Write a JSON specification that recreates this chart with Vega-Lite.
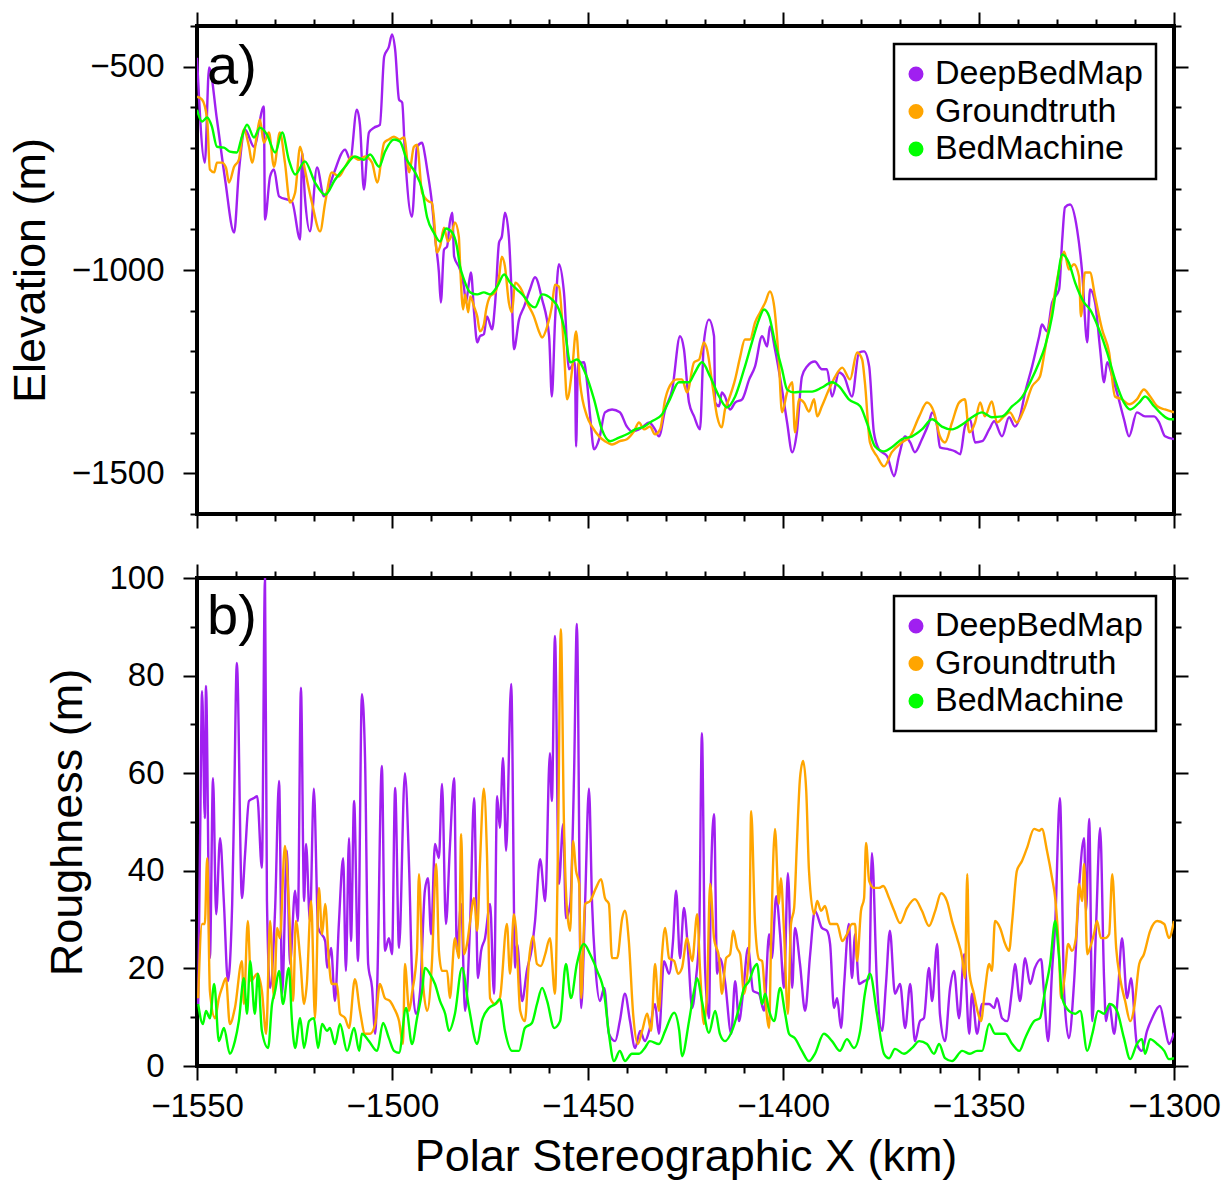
{
"$schema": "https://vega.github.io/schema/vega-lite/v6.json",
"padding": {"left": 6, "top": 8, "right": 5, "bottom": 5},
"spacing": 64,
"bounds": "flush",
"datasets": {
"t_dbm": [{"x":-1550,"y":-478},{"x":-1548.0,"y":-736},{"x":-1546.9,"y":-502},{"x":-1544.9,"y":-630},{"x":-1542.8,"y":-778},{"x":-1540.5,"y":-908},{"x":-1539.3,"y":-760},{"x":-1537.7,"y":-655},{"x":-1535.4,"y":-697},{"x":-1532.9,"y":-598},{"x":-1532.6,"y":-876},{"x":-1531.3,"y":-770},{"x":-1530.3,"y":-753},{"x":-1529.0,"y":-819},{"x":-1525.7,"y":-832},{"x":-1523.6,"y":-925},{"x":-1523.1,"y":-711},{"x":-1522.4,"y":-819},{"x":-1521.1,"y":-905},{"x":-1519.3,"y":-748},{"x":-1517.5,"y":-819},{"x":-1516.2,"y":-795},{"x":-1514.9,"y":-760},{"x":-1512.1,"y":-704},{"x":-1510.8,"y":-729},{"x":-1509.1,"y":-606},{"x":-1508.3,"y":-643},{"x":-1507.3,"y":-802},{"x":-1506.0,"y":-662},{"x":-1504.7,"y":-650},{"x":-1503.2,"y":-643},{"x":-1502.1,"y":-475},{"x":-1500.9,"y":-451},{"x":-1500.1,"y":-421},{"x":-1499.3,"y":-458},{"x":-1498.3,"y":-581},{"x":-1497.5,"y":-588},{"x":-1496.8,"y":-711},{"x":-1495.0,"y":-869},{"x":-1493.7,"y":-697},{"x":-1492.4,"y":-687},{"x":-1491.7,"y":-716},{"x":-1491.1,"y":-753},{"x":-1489.9,"y":-834},{"x":-1489.1,"y":-918},{"x":-1488.1,"y":-1006},{"x":-1487.6,"y":-1080},{"x":-1486.8,"y":-950},{"x":-1486.0,"y":-942},{"x":-1485.3,"y":-883},{"x":-1484.7,"y":-859},{"x":-1484.2,"y":-967},{"x":-1482.7,"y":-999},{"x":-1481.7,"y":-1041},{"x":-1481.2,"y":-1080},{"x":-1480.4,"y":-1031},{"x":-1479.9,"y":-1006},{"x":-1479.1,"y":-1104},{"x":-1478.3,"y":-1178},{"x":-1477.6,"y":-1163},{"x":-1476.6,"y":-1158},{"x":-1475.8,"y":-1114},{"x":-1474.5,"y":-1146},{"x":-1473.7,"y":-1080},{"x":-1472.7,"y":-932},{"x":-1472.0,"y":-918},{"x":-1471.2,"y":-859},{"x":-1470.2,"y":-918},{"x":-1469.4,"y":-1080},{"x":-1468.9,"y":-1195},{"x":-1467.6,"y":-1122},{"x":-1466.3,"y":-1090},{"x":-1464.8,"y":-1048},{"x":-1463.5,"y":-1018},{"x":-1461.7,"y":-1072},{"x":-1459.9,"y":-1163},{"x":-1459.2,"y":-1311},{"x":-1458.4,"y":-1129},{"x":-1457.4,"y":-986},{"x":-1456.1,"y":-1055},{"x":-1454.8,"y":-1244},{"x":-1453.3,"y":-1227},{"x":-1453.0,"y":-1434},{"x":-1452.5,"y":-1232},{"x":-1451.0,"y":-1227},{"x":-1450.2,"y":-1276},{"x":-1449.4,"y":-1360},{"x":-1448.4,"y":-1441},{"x":-1447.1,"y":-1416},{"x":-1445.6,"y":-1350},{"x":-1443.8,"y":-1343},{"x":-1441.8,"y":-1350},{"x":-1440.0,"y":-1385},{"x":-1438.7,"y":-1397},{"x":-1436.1,"y":-1387},{"x":-1434.3,"y":-1375},{"x":-1432.8,"y":-1392},{"x":-1431.8,"y":-1409},{"x":-1430.2,"y":-1343},{"x":-1428.4,"y":-1294},{"x":-1426.4,"y":-1163},{"x":-1425.4,"y":-1195},{"x":-1424.1,"y":-1326},{"x":-1422.8,"y":-1360},{"x":-1421.3,"y":-1392},{"x":-1420.3,"y":-1178},{"x":-1419.0,"y":-1122},{"x":-1417.7,"y":-1163},{"x":-1417.4,"y":-1326},{"x":-1416.4,"y":-1335},{"x":-1415.7,"y":-1301},{"x":-1414.9,"y":-1311},{"x":-1413.6,"y":-1343},{"x":-1412.3,"y":-1326},{"x":-1410.5,"y":-1318},{"x":-1408.7,"y":-1269},{"x":-1407.2,"y":-1237},{"x":-1405.4,"y":-1163},{"x":-1404.1,"y":-1188},{"x":-1403.4,"y":-1139},{"x":-1402.1,"y":-1195},{"x":-1400.3,"y":-1294},{"x":-1399.0,"y":-1375},{"x":-1397.7,"y":-1448},{"x":-1396.5,"y":-1399},{"x":-1395.2,"y":-1262},{"x":-1393.9,"y":-1237},{"x":-1391.9,"y":-1225},{"x":-1390.1,"y":-1244},{"x":-1388.8,"y":-1244},{"x":-1387.5,"y":-1311},{"x":-1385.7,"y":-1252},{"x":-1384.4,"y":-1262},{"x":-1382.4,"y":-1311},{"x":-1380.6,"y":-1203},{"x":-1379.3,"y":-1200},{"x":-1378.0,"y":-1237},{"x":-1376.8,"y":-1399},{"x":-1375.5,"y":-1441},{"x":-1373.4,"y":-1458},{"x":-1371.6,"y":-1507},{"x":-1370.4,"y":-1458},{"x":-1368.8,"y":-1409},{"x":-1367.5,"y":-1424},{"x":-1366.3,"y":-1448},{"x":-1364.5,"y":-1416},{"x":-1362.7,"y":-1375},{"x":-1361.9,"y":-1350},{"x":-1360.6,"y":-1385},{"x":-1359.9,"y":-1436},{"x":-1357.6,"y":-1441},{"x":-1356.0,"y":-1446},{"x":-1354.7,"y":-1453},{"x":-1353.5,"y":-1385},{"x":-1352.2,"y":-1367},{"x":-1350.9,"y":-1424},{"x":-1349.1,"y":-1421},{"x":-1347.3,"y":-1392},{"x":-1346.0,"y":-1372},{"x":-1344.0,"y":-1409},{"x":-1342.2,"y":-1362},{"x":-1340.7,"y":-1385},{"x":-1339.4,"y":-1360},{"x":-1338.1,"y":-1301},{"x":-1336.3,"y":-1237},{"x":-1334.5,"y":-1163},{"x":-1333.8,"y":-1134},{"x":-1332.5,"y":-1151},{"x":-1331.2,"y":-1080},{"x":-1329.4,"y":-1048},{"x":-1328.6,"y":-925},{"x":-1327.9,"y":-846},{"x":-1326.6,"y":-839},{"x":-1324.8,"y":-900},{"x":-1323.5,"y":-1006},{"x":-1322.2,"y":-1178},{"x":-1321.5,"y":-1048},{"x":-1320.2,"y":-1080},{"x":-1318.9,"y":-1195},{"x":-1317.9,"y":-1276},{"x":-1317.1,"y":-1227},{"x":-1315.8,"y":-1262},{"x":-1314.6,"y":-1301},{"x":-1312.8,"y":-1367},{"x":-1311.5,"y":-1409},{"x":-1309.5,"y":-1350},{"x":-1307.4,"y":-1360},{"x":-1305.1,"y":-1360},{"x":-1303.8,"y":-1375},{"x":-1302.3,"y":-1409},{"x":-1300.0,"y":-1416}],
"t_gt": [{"x":-1550,"y":-574},{"x":-1548.7,"y":-581},{"x":-1547.4,"y":-630},{"x":-1546.7,"y":-753},{"x":-1545.6,"y":-760},{"x":-1544.9,"y":-736},{"x":-1543.6,"y":-736},{"x":-1542.6,"y":-748},{"x":-1541.8,"y":-785},{"x":-1540.5,"y":-746},{"x":-1539.3,"y":-729},{"x":-1538.0,"y":-655},{"x":-1536.7,"y":-697},{"x":-1535.9,"y":-736},{"x":-1534.6,"y":-662},{"x":-1533.9,"y":-630},{"x":-1532.9,"y":-687},{"x":-1531.6,"y":-662},{"x":-1530.3,"y":-746},{"x":-1528.8,"y":-662},{"x":-1527.5,"y":-736},{"x":-1526.2,"y":-834},{"x":-1524.9,"y":-810},{"x":-1523.6,"y":-697},{"x":-1522.4,"y":-753},{"x":-1520.6,"y":-834},{"x":-1518.5,"y":-905},{"x":-1517.2,"y":-834},{"x":-1515.5,"y":-760},{"x":-1513.7,"y":-770},{"x":-1512.1,"y":-746},{"x":-1510.3,"y":-721},{"x":-1508.5,"y":-729},{"x":-1507.0,"y":-721},{"x":-1505.2,"y":-736},{"x":-1503.9,"y":-785},{"x":-1502.1,"y":-687},{"x":-1500.9,"y":-679},{"x":-1499.6,"y":-672},{"x":-1498.3,"y":-679},{"x":-1497.0,"y":-674},{"x":-1495.7,"y":-760},{"x":-1494.5,"y":-697},{"x":-1493.7,"y":-692},{"x":-1492.4,"y":-810},{"x":-1490.6,"y":-832},{"x":-1489.9,"y":-834},{"x":-1489.4,"y":-869},{"x":-1488.6,"y":-957},{"x":-1487.8,"y":-942},{"x":-1486.8,"y":-896},{"x":-1485.8,"y":-930},{"x":-1485.0,"y":-918},{"x":-1484.0,"y":-883},{"x":-1483.0,"y":-918},{"x":-1482.7,"y":-982},{"x":-1481.9,"y":-1097},{"x":-1481.4,"y":-1060},{"x":-1480.6,"y":-1104},{"x":-1480.1,"y":-1065},{"x":-1479.1,"y":-1090},{"x":-1478.3,"y":-1114},{"x":-1477.6,"y":-1151},{"x":-1476.6,"y":-1134},{"x":-1476.0,"y":-1097},{"x":-1475.0,"y":-1065},{"x":-1473.7,"y":-1055},{"x":-1472.7,"y":-1016},{"x":-1472.0,"y":-967},{"x":-1471.2,"y":-991},{"x":-1470.2,"y":-1080},{"x":-1469.4,"y":-1104},{"x":-1468.6,"y":-1031},{"x":-1467.3,"y":-1043},{"x":-1465.6,"y":-1080},{"x":-1463.8,"y":-1114},{"x":-1462.5,"y":-1151},{"x":-1461.7,"y":-1166},{"x":-1460.4,"y":-1139},{"x":-1459.2,"y":-1090},{"x":-1458.4,"y":-1036},{"x":-1457.4,"y":-1041},{"x":-1456.1,"y":-1195},{"x":-1455.3,"y":-1318},{"x":-1454.0,"y":-1244},{"x":-1453.0,"y":-1151},{"x":-1452.0,"y":-1276},{"x":-1450.2,"y":-1360},{"x":-1448.9,"y":-1385},{"x":-1447.1,"y":-1409},{"x":-1445.6,"y":-1421},{"x":-1443.8,"y":-1429},{"x":-1441.8,"y":-1421},{"x":-1440.0,"y":-1416},{"x":-1438.2,"y":-1397},{"x":-1436.9,"y":-1375},{"x":-1435.6,"y":-1392},{"x":-1434.1,"y":-1385},{"x":-1432.8,"y":-1404},{"x":-1431.5,"y":-1392},{"x":-1430.2,"y":-1318},{"x":-1428.4,"y":-1276},{"x":-1427.2,"y":-1269},{"x":-1425.9,"y":-1269},{"x":-1424.6,"y":-1301},{"x":-1422.8,"y":-1227},{"x":-1421.5,"y":-1220},{"x":-1420.3,"y":-1178},{"x":-1419.5,"y":-1195},{"x":-1418.2,"y":-1276},{"x":-1416.9,"y":-1360},{"x":-1415.7,"y":-1387},{"x":-1414.9,"y":-1343},{"x":-1413.9,"y":-1318},{"x":-1412.3,"y":-1269},{"x":-1411.0,"y":-1213},{"x":-1409.8,"y":-1171},{"x":-1408.5,"y":-1171},{"x":-1407.2,"y":-1129},{"x":-1405.9,"y":-1104},{"x":-1404.6,"y":-1080},{"x":-1403.4,"y":-1053},{"x":-1402.3,"y":-1090},{"x":-1401.1,"y":-1227},{"x":-1400.3,"y":-1350},{"x":-1399.0,"y":-1301},{"x":-1397.7,"y":-1276},{"x":-1397.0,"y":-1399},{"x":-1395.9,"y":-1318},{"x":-1394.7,"y":-1326},{"x":-1393.4,"y":-1348},{"x":-1392.1,"y":-1318},{"x":-1391.3,"y":-1360},{"x":-1390.1,"y":-1335},{"x":-1388.3,"y":-1294},{"x":-1386.7,"y":-1262},{"x":-1384.9,"y":-1240},{"x":-1382.9,"y":-1269},{"x":-1381.1,"y":-1203},{"x":-1379.8,"y":-1220},{"x":-1379.1,"y":-1276},{"x":-1377.8,"y":-1424},{"x":-1376.0,"y":-1458},{"x":-1374.2,"y":-1483},{"x":-1372.2,"y":-1448},{"x":-1369.6,"y":-1424},{"x":-1367.5,"y":-1409},{"x":-1365.2,"y":-1360},{"x":-1363.2,"y":-1326},{"x":-1361.4,"y":-1350},{"x":-1359.9,"y":-1409},{"x":-1358.6,"y":-1424},{"x":-1356.8,"y":-1375},{"x":-1355.0,"y":-1326},{"x":-1353.5,"y":-1318},{"x":-1352.4,"y":-1399},{"x":-1350.9,"y":-1375},{"x":-1349.6,"y":-1326},{"x":-1348.4,"y":-1360},{"x":-1346.6,"y":-1323},{"x":-1345.3,"y":-1375},{"x":-1343.5,"y":-1360},{"x":-1342.0,"y":-1350},{"x":-1340.2,"y":-1375},{"x":-1338.4,"y":-1343},{"x":-1336.3,"y":-1286},{"x":-1334.3,"y":-1262},{"x":-1333.0,"y":-1195},{"x":-1331.2,"y":-1097},{"x":-1329.4,"y":-999},{"x":-1328.1,"y":-955},{"x":-1326.9,"y":-999},{"x":-1325.6,"y":-986},{"x":-1324.3,"y":-1016},{"x":-1323.8,"y":-1114},{"x":-1322.8,"y":-1006},{"x":-1321.5,"y":-1006},{"x":-1320.2,"y":-1065},{"x":-1318.4,"y":-1146},{"x":-1316.6,"y":-1203},{"x":-1315.1,"y":-1311},{"x":-1313.3,"y":-1318},{"x":-1311.5,"y":-1330},{"x":-1309.5,"y":-1318},{"x":-1307.7,"y":-1294},{"x":-1306.1,"y":-1311},{"x":-1304.3,"y":-1335},{"x":-1302.3,"y":-1343},{"x":-1300.0,"y":-1350}],
"t_bm": [{"x":-1550,"y":-606},{"x":-1548.7,"y":-635},{"x":-1547.4,"y":-625},{"x":-1546.2,"y":-647},{"x":-1544.9,"y":-697},{"x":-1543.1,"y":-699},{"x":-1541.6,"y":-709},{"x":-1539.8,"y":-711},{"x":-1538.5,"y":-672},{"x":-1537.2,"y":-643},{"x":-1535.4,"y":-674},{"x":-1533.9,"y":-650},{"x":-1532.1,"y":-667},{"x":-1530.0,"y":-711},{"x":-1528.2,"y":-662},{"x":-1526.5,"y":-729},{"x":-1524.9,"y":-765},{"x":-1522.4,"y":-733},{"x":-1519.8,"y":-785},{"x":-1517.2,"y":-815},{"x":-1514.7,"y":-778},{"x":-1512.1,"y":-746},{"x":-1509.6,"y":-721},{"x":-1507.3,"y":-729},{"x":-1505.7,"y":-716},{"x":-1503.4,"y":-746},{"x":-1501.9,"y":-709},{"x":-1499.6,"y":-679},{"x":-1498.1,"y":-684},{"x":-1496.3,"y":-729},{"x":-1494.2,"y":-760},{"x":-1492.4,"y":-802},{"x":-1491.1,"y":-871},{"x":-1489.4,"y":-908},{"x":-1487.8,"y":-930},{"x":-1486.3,"y":-898},{"x":-1484.7,"y":-908},{"x":-1483.5,"y":-942},{"x":-1482.7,"y":-991},{"x":-1481.7,"y":-1023},{"x":-1480.1,"y":-1055},{"x":-1478.3,"y":-1060},{"x":-1476.6,"y":-1055},{"x":-1475.0,"y":-1060},{"x":-1473.2,"y":-1041},{"x":-1471.4,"y":-1011},{"x":-1469.9,"y":-1031},{"x":-1468.1,"y":-1048},{"x":-1466.3,"y":-1065},{"x":-1464.8,"y":-1085},{"x":-1463.5,"y":-1092},{"x":-1461.7,"y":-1060},{"x":-1459.2,"y":-1072},{"x":-1457.4,"y":-1097},{"x":-1455.8,"y":-1154},{"x":-1454.5,"y":-1227},{"x":-1452.8,"y":-1220},{"x":-1450.7,"y":-1252},{"x":-1448.4,"y":-1318},{"x":-1446.4,"y":-1392},{"x":-1444.3,"y":-1421},{"x":-1442.0,"y":-1412},{"x":-1440.0,"y":-1404},{"x":-1437.9,"y":-1392},{"x":-1435.6,"y":-1385},{"x":-1433.6,"y":-1372},{"x":-1431.0,"y":-1355},{"x":-1429.0,"y":-1318},{"x":-1426.7,"y":-1276},{"x":-1424.1,"y":-1276},{"x":-1422.6,"y":-1252},{"x":-1420.8,"y":-1227},{"x":-1418.7,"y":-1262},{"x":-1416.4,"y":-1311},{"x":-1414.4,"y":-1338},{"x":-1412.3,"y":-1311},{"x":-1410.0,"y":-1244},{"x":-1408.0,"y":-1178},{"x":-1406.2,"y":-1122},{"x":-1404.9,"y":-1097},{"x":-1403.6,"y":-1114},{"x":-1402.1,"y":-1178},{"x":-1400.3,"y":-1244},{"x":-1399.0,"y":-1294},{"x":-1397.2,"y":-1301},{"x":-1395.2,"y":-1299},{"x":-1392.6,"y":-1299},{"x":-1390.1,"y":-1289},{"x":-1387.5,"y":-1276},{"x":-1385.7,"y":-1286},{"x":-1383.2,"y":-1318},{"x":-1380.3,"y":-1335},{"x":-1378.6,"y":-1375},{"x":-1376.5,"y":-1434},{"x":-1374.2,"y":-1446},{"x":-1372.2,"y":-1436},{"x":-1369.6,"y":-1416},{"x":-1367.0,"y":-1409},{"x":-1364.5,"y":-1392},{"x":-1361.9,"y":-1367},{"x":-1359.4,"y":-1385},{"x":-1356.8,"y":-1392},{"x":-1354.2,"y":-1380},{"x":-1351.7,"y":-1362},{"x":-1349.1,"y":-1350},{"x":-1346.6,"y":-1362},{"x":-1344.0,"y":-1360},{"x":-1341.4,"y":-1335},{"x":-1338.9,"y":-1313},{"x":-1336.8,"y":-1276},{"x":-1334.5,"y":-1227},{"x":-1333.0,"y":-1188},{"x":-1331.2,"y":-1114},{"x":-1329.9,"y":-1031},{"x":-1328.6,"y":-962},{"x":-1326.9,"y":-982},{"x":-1325.3,"y":-1031},{"x":-1323.0,"y":-1080},{"x":-1321.5,"y":-1097},{"x":-1319.2,"y":-1146},{"x":-1317.1,"y":-1203},{"x":-1315.1,"y":-1269},{"x":-1312.8,"y":-1326},{"x":-1311.2,"y":-1343},{"x":-1308.9,"y":-1326},{"x":-1307.4,"y":-1311},{"x":-1305.1,"y":-1335},{"x":-1303.1,"y":-1355},{"x":-1301.0,"y":-1367},{"x":-1300.0,"y":-1367}],
"b_dbm": [{"x":-1549.7,"y":12.7},{"x":-1549.2,"y":46.7},{"x":-1548.7,"y":76.8},{"x":-1548.0,"y":50.8},{"x":-1547.7,"y":77.9},{"x":-1546.7,"y":22.1},{"x":-1545.9,"y":59.0},{"x":-1545.1,"y":31.1},{"x":-1544.1,"y":46.7},{"x":-1543.1,"y":33.2},{"x":-1542.1,"y":17.4},{"x":-1541.0,"y":33.2},{"x":-1540.5,"y":53.7},{"x":-1539.8,"y":82.6},{"x":-1538.5,"y":34.4},{"x":-1537.7,"y":43.4},{"x":-1536.7,"y":54.3},{"x":-1535.4,"y":54.9},{"x":-1534.6,"y":55.3},{"x":-1533.4,"y":40.6},{"x":-1532.6,"y":100.0},{"x":-1532.1,"y":33.8},{"x":-1531.3,"y":16.0},{"x":-1530.0,"y":32.4},{"x":-1529.0,"y":58.4},{"x":-1528.2,"y":14.8},{"x":-1527.0,"y":44.1},{"x":-1526.2,"y":20.9},{"x":-1524.9,"y":35.9},{"x":-1524.2,"y":29.7},{"x":-1523.4,"y":77.5},{"x":-1522.6,"y":33.8},{"x":-1522.1,"y":45.5},{"x":-1521.1,"y":29.7},{"x":-1520.1,"y":56.8},{"x":-1519.0,"y":28.3},{"x":-1517.2,"y":25.6},{"x":-1516.7,"y":20.1},{"x":-1515.7,"y":24.2},{"x":-1514.7,"y":13.3},{"x":-1513.7,"y":29.1},{"x":-1512.6,"y":42.6},{"x":-1511.9,"y":19.5},{"x":-1511.1,"y":46.7},{"x":-1510.6,"y":25.6},{"x":-1509.8,"y":54.3},{"x":-1508.8,"y":21.5},{"x":-1507.8,"y":76.2},{"x":-1507.0,"y":63.1},{"x":-1506.2,"y":20.9},{"x":-1505.2,"y":16.0},{"x":-1504.4,"y":6.6},{"x":-1503.9,"y":16.0},{"x":-1502.7,"y":61.5},{"x":-1501.9,"y":23.6},{"x":-1500.9,"y":26.2},{"x":-1500.1,"y":22.9},{"x":-1499.3,"y":57.0},{"x":-1498.3,"y":24.2},{"x":-1496.8,"y":60.0},{"x":-1495.7,"y":40.0},{"x":-1495.0,"y":19.5},{"x":-1494.0,"y":10.7},{"x":-1492.9,"y":15.4},{"x":-1491.7,"y":35.9},{"x":-1490.9,"y":38.5},{"x":-1490.1,"y":27.0},{"x":-1489.1,"y":45.5},{"x":-1488.1,"y":42.6},{"x":-1487.3,"y":57.8},{"x":-1486.3,"y":29.1},{"x":-1485.3,"y":44.7},{"x":-1484.2,"y":59.0},{"x":-1483.5,"y":23.6},{"x":-1482.4,"y":33.2},{"x":-1481.4,"y":11.3},{"x":-1480.1,"y":29.7},{"x":-1479.1,"y":54.9},{"x":-1478.1,"y":18.0},{"x":-1477.3,"y":23.6},{"x":-1476.3,"y":26.2},{"x":-1475.0,"y":33.2},{"x":-1474.0,"y":14.8},{"x":-1473.2,"y":55.3},{"x":-1472.5,"y":48.8},{"x":-1471.7,"y":63.1},{"x":-1470.9,"y":44.1},{"x":-1469.6,"y":78.3},{"x":-1468.6,"y":20.1},{"x":-1468.1,"y":25.0},{"x":-1466.8,"y":13.3},{"x":-1465.6,"y":19.5},{"x":-1464.3,"y":24.2},{"x":-1463.5,"y":29.7},{"x":-1462.2,"y":42.4},{"x":-1460.9,"y":33.8},{"x":-1459.7,"y":64.1},{"x":-1459.2,"y":54.3},{"x":-1458.4,"y":88.1},{"x":-1457.4,"y":37.3},{"x":-1456.3,"y":49.6},{"x":-1455.6,"y":30.3},{"x":-1454.5,"y":33.2},{"x":-1453.5,"y":60.4},{"x":-1452.8,"y":90.6},{"x":-1451.7,"y":11.9},{"x":-1450.7,"y":33.2},{"x":-1449.7,"y":56.8},{"x":-1448.9,"y":33.2},{"x":-1448.1,"y":20.9},{"x":-1446.9,"y":13.3},{"x":-1445.8,"y":16.0},{"x":-1444.6,"y":6.6},{"x":-1443.0,"y":5.1},{"x":-1441.8,"y":9.2},{"x":-1440.5,"y":14.8},{"x":-1439.2,"y":9.2},{"x":-1437.9,"y":3.7},{"x":-1436.6,"y":7.2},{"x":-1435.4,"y":5.1},{"x":-1434.1,"y":7.8},{"x":-1432.8,"y":12.7},{"x":-1431.8,"y":6.6},{"x":-1430.5,"y":21.5},{"x":-1429.2,"y":18.9},{"x":-1428.2,"y":25.6},{"x":-1427.4,"y":35.9},{"x":-1426.4,"y":22.1},{"x":-1425.4,"y":32.4},{"x":-1424.4,"y":24.2},{"x":-1423.3,"y":11.9},{"x":-1422.3,"y":18.0},{"x":-1421.5,"y":27.0},{"x":-1420.8,"y":68.2},{"x":-1420.0,"y":20.1},{"x":-1419.0,"y":9.8},{"x":-1418.5,"y":37.3},{"x":-1417.7,"y":51.6},{"x":-1416.9,"y":18.9},{"x":-1416.2,"y":22.1},{"x":-1414.9,"y":17.4},{"x":-1413.3,"y":6.6},{"x":-1412.3,"y":17.4},{"x":-1411.3,"y":9.2},{"x":-1410.3,"y":14.8},{"x":-1409.0,"y":24.2},{"x":-1407.7,"y":15.4},{"x":-1406.2,"y":14.8},{"x":-1404.9,"y":11.3},{"x":-1403.6,"y":27.0},{"x":-1402.9,"y":22.1},{"x":-1401.8,"y":34.8},{"x":-1400.8,"y":27.0},{"x":-1399.8,"y":16.0},{"x":-1398.8,"y":39.5},{"x":-1397.7,"y":16.0},{"x":-1397.0,"y":28.3},{"x":-1395.7,"y":20.9},{"x":-1394.4,"y":11.3},{"x":-1393.1,"y":22.9},{"x":-1391.9,"y":31.8},{"x":-1390.1,"y":28.3},{"x":-1388.8,"y":27.7},{"x":-1388.0,"y":25.0},{"x":-1387.0,"y":11.9},{"x":-1386.2,"y":13.9},{"x":-1385.2,"y":7.8},{"x":-1384.4,"y":16.8},{"x":-1383.2,"y":29.1},{"x":-1382.4,"y":18.0},{"x":-1381.6,"y":27.0},{"x":-1380.6,"y":16.8},{"x":-1379.3,"y":17.4},{"x":-1378.0,"y":18.0},{"x":-1377.3,"y":43.6},{"x":-1376.0,"y":16.8},{"x":-1374.7,"y":7.2},{"x":-1373.7,"y":16.8},{"x":-1372.7,"y":27.7},{"x":-1371.4,"y":14.8},{"x":-1370.1,"y":16.8},{"x":-1368.8,"y":7.8},{"x":-1367.5,"y":16.8},{"x":-1366.3,"y":5.1},{"x":-1365.0,"y":9.2},{"x":-1364.0,"y":9.8},{"x":-1362.7,"y":20.1},{"x":-1361.9,"y":13.3},{"x":-1360.6,"y":25.0},{"x":-1359.9,"y":10.7},{"x":-1358.6,"y":5.1},{"x":-1357.3,"y":16.0},{"x":-1356.3,"y":19.5},{"x":-1355.0,"y":9.8},{"x":-1353.7,"y":22.9},{"x":-1352.4,"y":6.6},{"x":-1351.7,"y":14.8},{"x":-1350.4,"y":6.6},{"x":-1349.1,"y":12.7},{"x":-1347.3,"y":12.7},{"x":-1346.0,"y":11.9},{"x":-1345.3,"y":13.9},{"x":-1344.0,"y":9.8},{"x":-1342.7,"y":9.2},{"x":-1341.4,"y":16.0},{"x":-1340.7,"y":20.9},{"x":-1339.4,"y":13.3},{"x":-1338.1,"y":22.1},{"x":-1336.8,"y":16.8},{"x":-1335.6,"y":20.1},{"x":-1334.0,"y":21.9},{"x":-1333.3,"y":15.4},{"x":-1332.2,"y":5.1},{"x":-1331.2,"y":19.5},{"x":-1330.4,"y":29.1},{"x":-1329.2,"y":54.9},{"x":-1328.1,"y":14.8},{"x":-1326.9,"y":5.7},{"x":-1325.6,"y":16.8},{"x":-1324.3,"y":36.5},{"x":-1323.0,"y":46.7},{"x":-1322.5,"y":31.8},{"x":-1321.7,"y":50.6},{"x":-1320.9,"y":9.2},{"x":-1319.9,"y":29.7},{"x":-1318.9,"y":48.8},{"x":-1317.9,"y":18.0},{"x":-1317.4,"y":9.2},{"x":-1316.6,"y":12.7},{"x":-1315.3,"y":6.6},{"x":-1314.3,"y":15.4},{"x":-1313.3,"y":26.2},{"x":-1312.0,"y":13.9},{"x":-1311.0,"y":18.0},{"x":-1309.5,"y":4.5},{"x":-1308.2,"y":3.1},{"x":-1306.9,"y":7.2},{"x":-1305.6,"y":9.8},{"x":-1303.6,"y":12.3},{"x":-1302.3,"y":7.8},{"x":-1301.3,"y":4.5},{"x":-1300.0,"y":6.8}],
"b_gt": [{"x":-1549.7,"y":13.9},{"x":-1548.7,"y":29.1},{"x":-1548.0,"y":29.1},{"x":-1547.4,"y":42.6},{"x":-1546.7,"y":15.4},{"x":-1545.4,"y":9.8},{"x":-1544.4,"y":13.9},{"x":-1543.6,"y":16.0},{"x":-1542.6,"y":18.0},{"x":-1541.6,"y":8.6},{"x":-1540.3,"y":11.9},{"x":-1538.5,"y":21.5},{"x":-1538.0,"y":12.7},{"x":-1537.0,"y":29.7},{"x":-1536.2,"y":17.4},{"x":-1534.6,"y":18.9},{"x":-1533.4,"y":15.4},{"x":-1532.3,"y":6.6},{"x":-1531.3,"y":29.7},{"x":-1530.3,"y":13.9},{"x":-1529.5,"y":28.3},{"x":-1528.8,"y":26.2},{"x":-1527.5,"y":45.1},{"x":-1526.5,"y":33.2},{"x":-1525.4,"y":13.3},{"x":-1524.7,"y":29.7},{"x":-1523.6,"y":22.1},{"x":-1522.6,"y":12.7},{"x":-1521.9,"y":16.8},{"x":-1520.8,"y":33.8},{"x":-1519.8,"y":9.8},{"x":-1518.8,"y":36.5},{"x":-1518.0,"y":27.0},{"x":-1517.2,"y":33.2},{"x":-1516.2,"y":20.9},{"x":-1515.5,"y":16.8},{"x":-1514.2,"y":16.8},{"x":-1513.4,"y":10.7},{"x":-1512.1,"y":9.8},{"x":-1511.1,"y":7.8},{"x":-1509.6,"y":17.8},{"x":-1508.3,"y":11.3},{"x":-1507.0,"y":6.6},{"x":-1505.7,"y":6.6},{"x":-1504.4,"y":8.6},{"x":-1503.2,"y":16.8},{"x":-1501.9,"y":13.9},{"x":-1500.6,"y":13.3},{"x":-1499.6,"y":11.9},{"x":-1498.3,"y":9.2},{"x":-1497.3,"y":4.5},{"x":-1496.8,"y":20.9},{"x":-1495.7,"y":11.3},{"x":-1495.0,"y":14.8},{"x":-1493.7,"y":23.6},{"x":-1493.2,"y":39.3},{"x":-1492.2,"y":17.4},{"x":-1491.1,"y":11.3},{"x":-1489.9,"y":20.9},{"x":-1488.8,"y":41.4},{"x":-1488.1,"y":23.6},{"x":-1487.3,"y":19.5},{"x":-1486.0,"y":19.5},{"x":-1485.3,"y":13.9},{"x":-1484.0,"y":26.2},{"x":-1483.0,"y":22.1},{"x":-1482.4,"y":47.5},{"x":-1481.7,"y":22.9},{"x":-1480.9,"y":25.0},{"x":-1480.1,"y":29.7},{"x":-1479.1,"y":34.4},{"x":-1478.3,"y":27.7},{"x":-1477.6,"y":41.4},{"x":-1476.6,"y":56.8},{"x":-1475.8,"y":43.4},{"x":-1475.0,"y":13.9},{"x":-1473.7,"y":12.7},{"x":-1472.5,"y":13.9},{"x":-1470.7,"y":29.1},{"x":-1469.9,"y":18.9},{"x":-1468.9,"y":31.1},{"x":-1468.4,"y":28.3},{"x":-1467.3,"y":11.3},{"x":-1466.1,"y":9.2},{"x":-1465.0,"y":22.1},{"x":-1464.0,"y":26.6},{"x":-1463.0,"y":20.9},{"x":-1462.0,"y":20.5},{"x":-1460.9,"y":22.9},{"x":-1459.7,"y":26.2},{"x":-1458.4,"y":14.8},{"x":-1457.6,"y":46.7},{"x":-1456.9,"y":89.5},{"x":-1456.1,"y":49.6},{"x":-1455.3,"y":31.8},{"x":-1454.5,"y":27.7},{"x":-1453.8,"y":46.1},{"x":-1453.0,"y":40.0},{"x":-1452.2,"y":37.3},{"x":-1451.7,"y":13.9},{"x":-1450.7,"y":33.2},{"x":-1449.4,"y":33.8},{"x":-1447.9,"y":36.5},{"x":-1446.6,"y":38.3},{"x":-1445.6,"y":34.4},{"x":-1444.6,"y":33.2},{"x":-1443.8,"y":22.1},{"x":-1442.5,"y":22.1},{"x":-1441.2,"y":30.3},{"x":-1440.5,"y":31.8},{"x":-1439.5,"y":25.6},{"x":-1438.4,"y":10.7},{"x":-1437.2,"y":4.5},{"x":-1436.1,"y":7.2},{"x":-1434.8,"y":10.7},{"x":-1433.8,"y":7.2},{"x":-1432.8,"y":20.9},{"x":-1431.8,"y":11.3},{"x":-1431.0,"y":22.9},{"x":-1430.2,"y":28.3},{"x":-1429.2,"y":22.1},{"x":-1427.9,"y":21.5},{"x":-1426.9,"y":18.9},{"x":-1425.9,"y":20.1},{"x":-1424.6,"y":26.2},{"x":-1423.3,"y":21.5},{"x":-1422.0,"y":31.1},{"x":-1421.3,"y":20.1},{"x":-1420.3,"y":8.6},{"x":-1419.5,"y":14.8},{"x":-1418.7,"y":37.3},{"x":-1417.7,"y":26.2},{"x":-1416.4,"y":22.1},{"x":-1415.7,"y":14.8},{"x":-1414.6,"y":22.1},{"x":-1413.6,"y":22.9},{"x":-1412.8,"y":27.7},{"x":-1411.8,"y":24.2},{"x":-1411.0,"y":22.9},{"x":-1410.0,"y":14.8},{"x":-1408.7,"y":24.2},{"x":-1408.2,"y":52.2},{"x":-1407.2,"y":29.1},{"x":-1406.2,"y":21.9},{"x":-1405.4,"y":21.5},{"x":-1404.6,"y":13.9},{"x":-1403.6,"y":7.8},{"x":-1403.1,"y":25.6},{"x":-1402.1,"y":48.6},{"x":-1401.1,"y":33.2},{"x":-1400.6,"y":38.5},{"x":-1399.8,"y":27.7},{"x":-1398.8,"y":10.7},{"x":-1398.0,"y":29.1},{"x":-1397.2,"y":32.4},{"x":-1396.5,"y":45.5},{"x":-1395.7,"y":59.0},{"x":-1394.9,"y":62.5},{"x":-1394.1,"y":56.3},{"x":-1393.4,"y":40.0},{"x":-1392.1,"y":31.1},{"x":-1391.3,"y":33.8},{"x":-1390.3,"y":31.8},{"x":-1389.3,"y":32.8},{"x":-1388.0,"y":29.1},{"x":-1386.2,"y":29.1},{"x":-1384.9,"y":25.6},{"x":-1383.7,"y":27.0},{"x":-1382.4,"y":29.1},{"x":-1381.6,"y":29.1},{"x":-1381.1,"y":21.5},{"x":-1380.1,"y":31.8},{"x":-1379.3,"y":34.4},{"x":-1378.8,"y":45.7},{"x":-1378.0,"y":37.9},{"x":-1376.8,"y":36.5},{"x":-1375.5,"y":36.5},{"x":-1374.4,"y":36.9},{"x":-1372.9,"y":34.4},{"x":-1371.6,"y":31.8},{"x":-1370.1,"y":29.3},{"x":-1368.3,"y":32.4},{"x":-1366.3,"y":34.2},{"x":-1364.5,"y":31.8},{"x":-1362.7,"y":28.7},{"x":-1361.1,"y":31.8},{"x":-1359.6,"y":35.4},{"x":-1358.1,"y":33.8},{"x":-1356.8,"y":29.7},{"x":-1355.5,"y":26.2},{"x":-1354.2,"y":22.1},{"x":-1353.5,"y":18.0},{"x":-1352.9,"y":39.3},{"x":-1352.4,"y":19.5},{"x":-1351.2,"y":14.8},{"x":-1350.1,"y":10.7},{"x":-1349.4,"y":9.2},{"x":-1348.4,"y":15.4},{"x":-1347.3,"y":20.9},{"x":-1346.6,"y":19.5},{"x":-1345.8,"y":29.7},{"x":-1344.5,"y":28.3},{"x":-1343.2,"y":25.0},{"x":-1342.2,"y":23.6},{"x":-1341.4,"y":29.7},{"x":-1340.2,"y":40.0},{"x":-1338.9,"y":42.0},{"x":-1337.6,"y":44.7},{"x":-1335.8,"y":48.6},{"x":-1334.5,"y":48.2},{"x":-1333.8,"y":48.6},{"x":-1332.5,"y":44.1},{"x":-1331.2,"y":38.5},{"x":-1330.4,"y":34.4},{"x":-1329.4,"y":22.9},{"x":-1328.9,"y":13.9},{"x":-1327.9,"y":18.9},{"x":-1327.1,"y":25.0},{"x":-1326.1,"y":23.6},{"x":-1325.1,"y":26.2},{"x":-1324.3,"y":37.3},{"x":-1323.5,"y":33.8},{"x":-1323.0,"y":41.4},{"x":-1322.2,"y":22.9},{"x":-1321.5,"y":24.2},{"x":-1320.5,"y":27.0},{"x":-1319.7,"y":29.7},{"x":-1318.7,"y":26.2},{"x":-1317.6,"y":26.2},{"x":-1316.6,"y":27.0},{"x":-1315.8,"y":39.3},{"x":-1314.8,"y":24.2},{"x":-1313.8,"y":18.0},{"x":-1312.5,"y":13.3},{"x":-1311.2,"y":9.2},{"x":-1310.2,"y":11.9},{"x":-1308.9,"y":20.9},{"x":-1307.7,"y":22.9},{"x":-1306.1,"y":27.7},{"x":-1304.3,"y":29.7},{"x":-1302.5,"y":29.1},{"x":-1301.3,"y":26.2},{"x":-1300.0,"y":29.7}],
"b_bm": [{"x":-1549.7,"y":12.7},{"x":-1548.5,"y":8.6},{"x":-1547.7,"y":11.3},{"x":-1546.7,"y":9.8},{"x":-1545.6,"y":16.8},{"x":-1544.4,"y":5.1},{"x":-1543.1,"y":7.8},{"x":-1541.6,"y":2.5},{"x":-1540.3,"y":5.1},{"x":-1539.3,"y":9.2},{"x":-1538.0,"y":18.0},{"x":-1537.2,"y":10.7},{"x":-1536.4,"y":21.5},{"x":-1535.2,"y":10.7},{"x":-1534.4,"y":18.9},{"x":-1533.4,"y":7.2},{"x":-1531.8,"y":3.7},{"x":-1530.8,"y":12.7},{"x":-1530.0,"y":15.4},{"x":-1529.0,"y":19.5},{"x":-1528.0,"y":12.7},{"x":-1526.5,"y":20.1},{"x":-1525.7,"y":9.2},{"x":-1524.9,"y":3.7},{"x":-1523.6,"y":9.8},{"x":-1522.6,"y":3.7},{"x":-1521.3,"y":9.2},{"x":-1520.1,"y":9.8},{"x":-1519.0,"y":3.7},{"x":-1518.0,"y":8.6},{"x":-1516.7,"y":7.2},{"x":-1516.0,"y":7.8},{"x":-1514.7,"y":4.5},{"x":-1513.4,"y":8.6},{"x":-1511.6,"y":3.1},{"x":-1509.8,"y":7.8},{"x":-1508.5,"y":3.1},{"x":-1507.8,"y":6.6},{"x":-1506.0,"y":5.1},{"x":-1503.9,"y":3.1},{"x":-1502.4,"y":8.8},{"x":-1500.9,"y":5.7},{"x":-1499.6,"y":3.1},{"x":-1498.3,"y":2.7},{"x":-1496.5,"y":11.9},{"x":-1495.0,"y":4.5},{"x":-1493.7,"y":9.8},{"x":-1492.4,"y":15.4},{"x":-1491.7,"y":20.1},{"x":-1490.4,"y":18.9},{"x":-1489.1,"y":16.8},{"x":-1487.8,"y":13.3},{"x":-1486.5,"y":10.7},{"x":-1485.5,"y":7.2},{"x":-1484.0,"y":10.7},{"x":-1482.2,"y":20.1},{"x":-1480.4,"y":11.9},{"x":-1478.3,"y":4.5},{"x":-1477.1,"y":9.2},{"x":-1475.3,"y":11.9},{"x":-1473.7,"y":12.7},{"x":-1472.5,"y":13.7},{"x":-1471.2,"y":7.2},{"x":-1469.4,"y":3.1},{"x":-1467.6,"y":3.1},{"x":-1466.1,"y":7.8},{"x":-1464.3,"y":8.8},{"x":-1463.0,"y":12.7},{"x":-1461.7,"y":16.0},{"x":-1460.4,"y":13.3},{"x":-1458.6,"y":7.8},{"x":-1457.1,"y":9.2},{"x":-1455.6,"y":20.9},{"x":-1454.3,"y":13.9},{"x":-1452.8,"y":20.9},{"x":-1451.0,"y":25.0},{"x":-1449.4,"y":22.9},{"x":-1447.6,"y":19.5},{"x":-1445.8,"y":14.8},{"x":-1444.6,"y":6.6},{"x":-1443.3,"y":1.0},{"x":-1441.8,"y":3.1},{"x":-1440.5,"y":1.0},{"x":-1438.7,"y":2.5},{"x":-1436.9,"y":2.5},{"x":-1435.4,"y":3.7},{"x":-1434.1,"y":5.1},{"x":-1431.8,"y":4.5},{"x":-1430.2,"y":7.2},{"x":-1427.9,"y":10.9},{"x":-1426.6,"y":7.2},{"x":-1425.9,"y":2.0},{"x":-1424.1,"y":9.2},{"x":-1422.8,"y":15.4},{"x":-1422.0,"y":18.0},{"x":-1420.8,"y":13.3},{"x":-1419.0,"y":6.8},{"x":-1417.4,"y":11.3},{"x":-1416.2,"y":6.6},{"x":-1414.9,"y":5.1},{"x":-1413.1,"y":7.2},{"x":-1411.3,"y":11.9},{"x":-1410.0,"y":16.0},{"x":-1408.7,"y":17.4},{"x":-1407.5,"y":20.1},{"x":-1406.7,"y":20.9},{"x":-1405.4,"y":12.7},{"x":-1404.6,"y":14.8},{"x":-1403.6,"y":11.3},{"x":-1402.3,"y":9.2},{"x":-1400.8,"y":16.0},{"x":-1399.5,"y":10.7},{"x":-1398.5,"y":6.6},{"x":-1397.0,"y":5.7},{"x":-1395.2,"y":3.1},{"x":-1393.4,"y":1.0},{"x":-1391.9,"y":2.5},{"x":-1389.6,"y":6.6},{"x":-1387.5,"y":5.1},{"x":-1385.5,"y":3.1},{"x":-1383.7,"y":5.5},{"x":-1381.9,"y":3.7},{"x":-1380.3,"y":7.2},{"x":-1379.1,"y":14.8},{"x":-1377.8,"y":18.9},{"x":-1376.0,"y":10.7},{"x":-1374.2,"y":2.5},{"x":-1372.9,"y":1.6},{"x":-1371.4,"y":3.5},{"x":-1369.1,"y":2.5},{"x":-1367.0,"y":3.7},{"x":-1365.2,"y":5.1},{"x":-1363.2,"y":4.5},{"x":-1361.4,"y":2.5},{"x":-1360.1,"y":4.5},{"x":-1358.6,"y":1.6},{"x":-1356.8,"y":1.0},{"x":-1354.2,"y":3.1},{"x":-1352.2,"y":2.5},{"x":-1350.4,"y":3.1},{"x":-1349.1,"y":3.1},{"x":-1347.3,"y":8.6},{"x":-1345.8,"y":6.6},{"x":-1343.2,"y":6.6},{"x":-1341.4,"y":4.5},{"x":-1339.6,"y":3.1},{"x":-1338.1,"y":5.7},{"x":-1335.8,"y":9.2},{"x":-1334.3,"y":9.8},{"x":-1333.0,"y":15.4},{"x":-1331.7,"y":20.9},{"x":-1330.4,"y":29.7},{"x":-1329.4,"y":22.1},{"x":-1328.6,"y":13.9},{"x":-1326.9,"y":11.3},{"x":-1325.3,"y":10.7},{"x":-1324.0,"y":11.3},{"x":-1322.2,"y":3.1},{"x":-1320.9,"y":6.6},{"x":-1319.4,"y":11.3},{"x":-1317.9,"y":10.7},{"x":-1316.4,"y":12.7},{"x":-1314.6,"y":11.3},{"x":-1312.8,"y":5.7},{"x":-1311.2,"y":1.4},{"x":-1309.5,"y":4.5},{"x":-1308.2,"y":5.5},{"x":-1307.4,"y":2.5},{"x":-1306.1,"y":5.5},{"x":-1304.3,"y":4.5},{"x":-1302.5,"y":3.1},{"x":-1301.3,"y":1.4},{"x":-1300.0,"y":1.6}]
},
"resolve": {"scale": {"color": "independent"}, "legend": {"color": "independent"}},
"vconcat": [
{
"width": 977, "height": 488,
"resolve": {"axis": {"x": "independent", "y": "independent"}},
"layer": [
{"data": {"name": "t_dbm"}, "mark": {"type": "line", "clip": true},
 "encoding": {
  "x": {"field": "x", "type": "quantitative", "scale": {"domain": [-1550, -1300], "nice": false, "zero": false},
        "axis": {"orient": "bottom", "values": [-1550,-1540,-1530,-1520,-1510,-1500,-1490,-1480,-1470,-1460,-1450,-1440,-1430,-1420,-1410,-1400,-1390,-1380,-1370,-1360,-1350,-1340,-1330,-1320,-1310,-1300], "labels": false, "title": null,
                 "tickSize": {"condition": {"test": "datum.value % 50 === 0", "value": 14}, "value": 7}}},
  "y": {"field": "y", "type": "quantitative", "scale": {"domain": [-1600, -400], "nice": false, "zero": false},
        "axis": {"orient": "left", "values": [-1600,-1500,-1400,-1300,-1200,-1100,-1000,-900,-800,-700,-600,-500,-400], "format": "d",
                 "labelExpr": "datum.value % 500 === 0 ? datum.label : ''", "title": "Elevation (m)", "labelPadding": 19, "titlePadding": 18,
                 "tickSize": {"condition": {"test": "datum.value % 500 === 0", "value": 14}, "value": 7}}},
  "color": {"datum": "DeepBedMap", "type": "nominal",
            "scale": {"domain": ["DeepBedMap", "Groundtruth", "BedMachine"], "range": ["#a020f0", "#ffa500", "#00ff00"]},
            "legend": {"title": null, "orient": "top-right", "offset": 18, "symbolOffset": -8, "labelOffset": 2, "symbolSize": 159,
                       "symbolFillColor": {"expr": "datum.value === 'DeepBedMap' ? '#a020f0' : (datum.value === 'Groundtruth' ? '#ffa500' : '#00ff00')"}}}
 }},
{"data": {"name": "t_gt"}, "mark": {"type": "line", "clip": true},
 "encoding": {
  "x": {"field": "x", "type": "quantitative", "axis": null},
  "y": {"field": "y", "type": "quantitative", "axis": null},
  "color": {"datum": "Groundtruth", "type": "nominal"}
 }},
{"data": {"name": "t_bm"}, "mark": {"type": "line", "clip": true},
 "encoding": {
  "x": {"field": "x", "type": "quantitative", "axis": null},
  "y": {"field": "y", "type": "quantitative", "axis": null},
  "color": {"datum": "BedMachine", "type": "nominal"}
 }},
{"data": {"values": [{"label": "a)"}]},
 "mark": {"type": "text", "fontSize": 56, "align": "left", "baseline": "alphabetic", "dx": 10, "dy": 58, "color": "black"},
 "encoding": {
  "text": {"field": "label", "type": "nominal"},
  "x": {"datum": -1550, "type": "quantitative",
        "axis": {"orient": "top", "values": [-1550,-1540,-1530,-1520,-1510,-1500,-1490,-1480,-1470,-1460,-1450,-1440,-1430,-1420,-1410,-1400,-1390,-1380,-1370,-1360,-1350,-1340,-1330,-1320,-1310,-1300], "labels": false, "title": null,
                 "tickSize": {"condition": {"test": "datum.value % 50 === 0", "value": 14}, "value": 7}}},
  "y": {"datum": -400, "type": "quantitative",
        "axis": {"orient": "right", "values": [-1600,-1500,-1400,-1300,-1200,-1100,-1000,-900,-800,-700,-600,-500,-400], "labels": false, "title": null,
                 "tickSize": {"condition": {"test": "datum.value % 500 === 0", "value": 14}, "value": 7}}}
 }}
]
},
{
"width": 977, "height": 488,
"resolve": {"axis": {"x": "independent", "y": "independent"}},
"layer": [
{"data": {"name": "b_dbm"}, "mark": {"type": "line", "clip": true},
 "encoding": {
  "x": {"field": "x", "type": "quantitative", "scale": {"domain": [-1550, -1300], "nice": false, "zero": false},
        "axis": {"orient": "bottom", "values": [-1550,-1540,-1530,-1520,-1510,-1500,-1490,-1480,-1470,-1460,-1450,-1440,-1430,-1420,-1410,-1400,-1390,-1380,-1370,-1360,-1350,-1340,-1330,-1320,-1310,-1300], "format": "d",
                 "labelExpr": "datum.value % 50 === 0 ? datum.label : ''", "title": "Polar Stereographic X (km)", "labelPadding": 10, "titlePadding": 11,
                 "tickSize": {"condition": {"test": "datum.value % 50 === 0", "value": 14}, "value": 7}}},
  "y": {"field": "y", "type": "quantitative", "scale": {"domain": [0, 100], "nice": false, "zero": false},
        "axis": {"orient": "left", "values": [0,10,20,30,40,50,60,70,80,90,100], "format": "d",
                 "labelExpr": "datum.value % 20 === 0 ? datum.label : ''", "title": "Roughness (m)", "labelPadding": 19, "titlePadding": 18,
                 "tickSize": {"condition": {"test": "datum.value % 20 === 0", "value": 14}, "value": 7}}},
  "color": {"datum": "DeepBedMap", "type": "nominal",
            "scale": {"domain": ["DeepBedMap", "Groundtruth", "BedMachine"], "range": ["#a020f0", "#ffa500", "#00ff00"]},
            "legend": {"title": null, "orient": "top-right", "offset": 18, "symbolOffset": -8, "labelOffset": 2, "symbolSize": 159,
                       "symbolFillColor": {"expr": "datum.value === 'DeepBedMap' ? '#a020f0' : (datum.value === 'Groundtruth' ? '#ffa500' : '#00ff00')"}}}
 }},
{"data": {"name": "b_gt"}, "mark": {"type": "line", "clip": true},
 "encoding": {
  "x": {"field": "x", "type": "quantitative", "axis": null},
  "y": {"field": "y", "type": "quantitative", "axis": null},
  "color": {"datum": "Groundtruth", "type": "nominal"}
 }},
{"data": {"name": "b_bm"}, "mark": {"type": "line", "clip": true},
 "encoding": {
  "x": {"field": "x", "type": "quantitative", "axis": null},
  "y": {"field": "y", "type": "quantitative", "axis": null},
  "color": {"datum": "BedMachine", "type": "nominal"}
 }},
{"data": {"values": [{"label": "b)"}]},
 "mark": {"type": "text", "fontSize": 56, "align": "left", "baseline": "alphabetic", "dx": 10, "dy": 56, "color": "black"},
 "encoding": {
  "text": {"field": "label", "type": "nominal"},
  "x": {"datum": -1550, "type": "quantitative",
        "axis": {"orient": "top", "values": [-1550,-1540,-1530,-1520,-1510,-1500,-1490,-1480,-1470,-1460,-1450,-1440,-1430,-1420,-1410,-1400,-1390,-1380,-1370,-1360,-1350,-1340,-1330,-1320,-1310,-1300], "labels": false, "title": null,
                 "tickSize": {"condition": {"test": "datum.value % 50 === 0", "value": 14}, "value": 7}}},
  "y": {"datum": 100, "type": "quantitative",
        "axis": {"orient": "right", "values": [0,10,20,30,40,50,60,70,80,90,100], "labels": false, "title": null,
                 "tickSize": {"condition": {"test": "datum.value % 20 === 0", "value": 14}, "value": 7}}}
 }}
]
}
],
"config": {
 "font": "Liberation Sans",
 "background": "white",
 "view": {"stroke": "black", "strokeWidth": 4},
 "line": {"strokeWidth": 2.4, "interpolate": "monotone"},
 "axis": {"domain": false, "grid": false, "tickColor": "black", "tickWidth": 2, "labelColor": "black", "labelFontSize": 33,
          "labelFont": "Liberation Sans", "titleFont": "Liberation Sans", "titleFontSize": 45, "titleFontWeight": "normal",
          "titleColor": "black", "labelFlush": false, "labelOverlap": false, "labelBound": false},
 "legend": {"symbolType": "circle", "labelFontSize": 34, "labelFont": "Liberation Sans", "labelColor": "black",
            "rowPadding": 3.5, "padding": 13, "strokeColor": "black", "strokeWidth": 2.5, "fillColor": "white",
            "labelLimit": 400, "cornerRadius": 0}
}
}
